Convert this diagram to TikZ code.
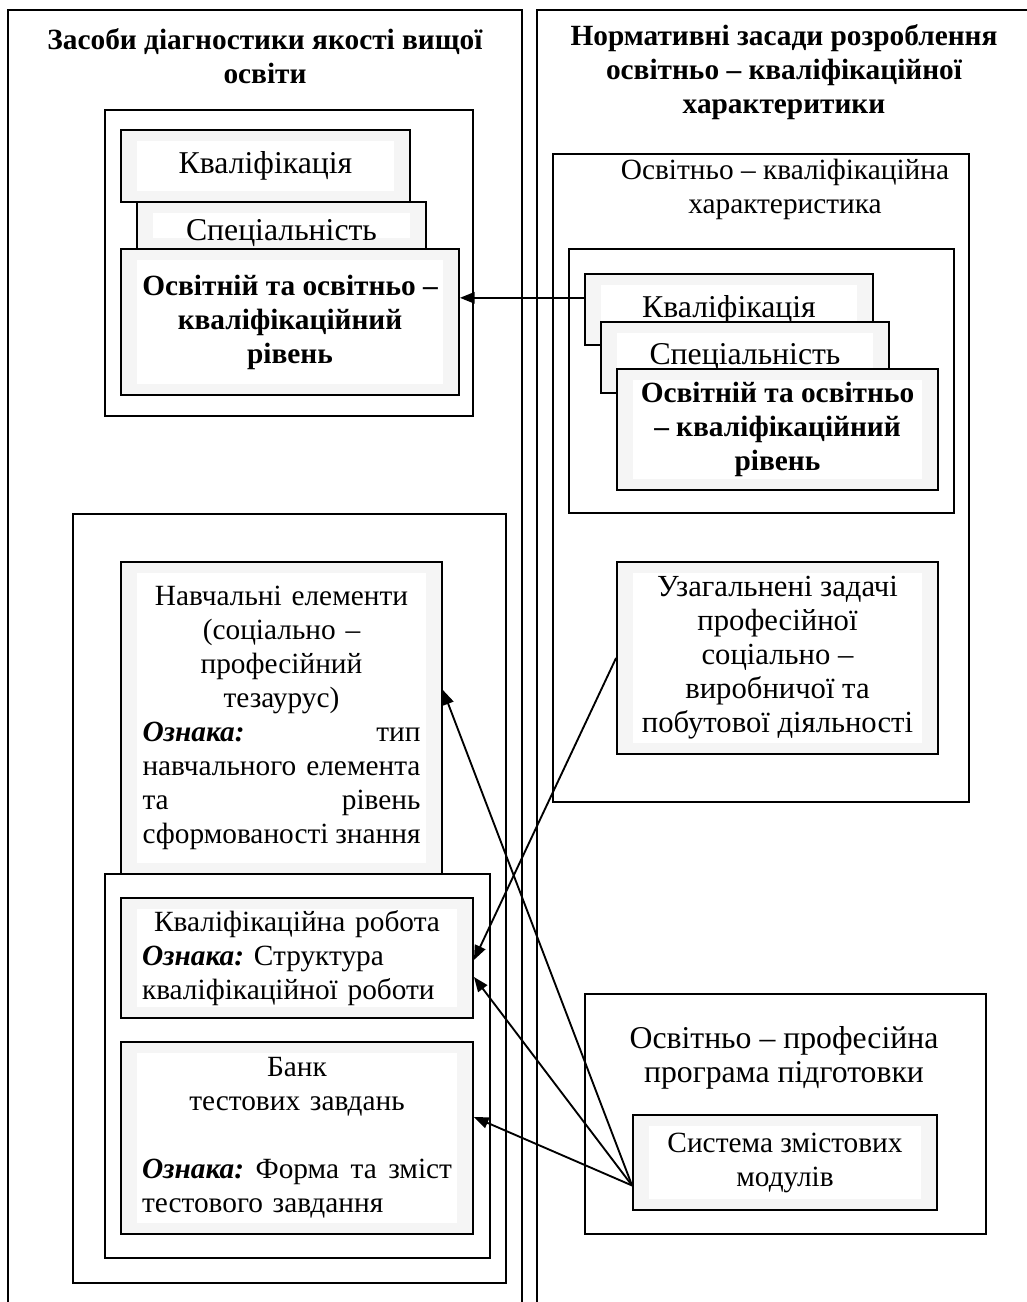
\documentclass[tikz,border=0pt]{standalone}
\usepackage{fontspec}
\setmainfont{Liberation Serif}
\usetikzlibrary{arrows.meta,calc}
\frenchspacing

\begin{document}
\begin{tikzpicture}[x=0.75pt,y=0.75pt,yscale=-1,xscale=1,
  every node/.style={font=\fontsize{22}{25.5}\selectfont, inner sep=0pt, align=center},
  boxline/.style={draw, line width=1.4pt},
  sz/.style 2 args={minimum width=#1*0.75pt, minimum height=#2*0.75pt},
  tbox/.style={boxline, fill=black!4, path picture={\fill[white] ([xshift=12pt,yshift=-8pt]path picture bounding box.north west) rectangle ([xshift=-12pt,yshift=8pt]path picture bounding box.south east);}},
  heading/.style={font=\fontsize{22}{25.5}\selectfont\bfseries},
  big/.style={font=\fontsize{23.8}{25.5}\selectfont},
  arr/.style={line width=1.4pt, -{Triangle[length=11pt,width=8.5pt]}}
]
\useasboundingbox (0,0) rectangle (1027,1302);

%Shape: column frames
\draw[line width=1.4pt] (8,1302) -- (8,10) -- (522,10) -- (522,1302);
\draw[line width=1.4pt] (1027,10) -- (537,10) -- (537,1302);

% Text Node
\node[heading] (ltitle) at (265,56) {Засоби діагностики якості вищої\\освіти};
% Text Node
\node[heading] (rtitle) at (784,72) {Нормативні засади розроблення\\освітньо – кваліфікаційної\\характеритики};

%Shape: Rectangle
\node[boxline, sz={368}{306}] (g1) at (289,263) {};
\node[tbox, big, sz={289}{72}] (lqual) at (265.5,166) {Кваліфікація};
\node[tbox, big, sz={289}{47}, text height=22pt, text depth=0pt] (lspec) at (281.5,225.5) {Спеціальність};
\node[tbox, heading, sz={338}{146}] (llevel) at (290,322) {Освітній та освітньо –\\кваліфікаційний\\рівень};

%Shape: Rectangle
\node[boxline, sz={416}{648}] (hbox) at (761,478) {};
% Text Node
\node (htitle) at (785,189) {Освітньо – кваліфікаційна\\характеристика};
\node[boxline, sz={385}{264}] (nbox) at (761.5,381) {};
\node[tbox, big, sz={288}{71}] (rqual) at (729,309.5) {Кваліфікація};
\node[tbox, big, sz={288}{71}] (rspec) at (745,357.5) {Спеціальність};
\node[tbox, heading, sz={321}{121}] (rlevel) at (777.5,429.5) {Освітній та освітньо\\– кваліфікаційний\\рівень};
\node[tbox, sz={321}{192}, font=\fontsize{23}{25.5}\selectfont] (tasks) at (777.5,658) {Узагальнені задачі\\професійної\\соціально –\\виробничої та\\побутової діяльності};

%Shape: Rectangle
\node[boxline, sz={433}{769}] (g2) at (289.5,898.5) {};
\node[tbox, sz={321}{312}, text width=208.5pt] (elems) at (281.5,718) {Навчальні елементи\\(соціально –\\професійний\\тезаурус)\\\textbf{\textit{Ознака:}}\hfill тип\\навчального\hfill елемента\\та\hfill рівень\\сформованості\hfill знання};
\node[boxline, sz={385}{384}] (g3) at (297.5,1066) {};
\node[tbox, sz={352}{120}, text width=232.5pt] (qwork) at (297,958) {Кваліфікаційна робота\\\textbf{\textit{Ознака:}} Структура\hfill\null\\кваліфікаційної роботи\hfill\null};
\node[tbox, sz={352}{192}, text width=232.5pt] (bank) at (297,1138) {Банк\\тестових завдань\\[25.5pt]\textbf{\textit{Ознака:}}\hfill Форма\hfill та\hfill зміст\\тестового завдання\hfill\null};

%Shape: Rectangle
\node[boxline, sz={401}{240}] (prog) at (785.5,1114) {};
% Text Node
\node[big] (progtitle) at (784,1058) {Освітньо – професійна\\програма підготовки};
\node[tbox, sz={304}{95}] (modules) at (785,1162.5) {Система змістових\\модулів};

%Straight Lines
\coordinate (rqa) at ($(rqual.south west)!0.66!(rqual.north west)$);
\draw[arr] (rqa) -- (rqa -| llevel.east);
\draw[arr] (tasks.west) -- ($(qwork.east)+(0,2)$);
\coordinate (modout) at ($(modules.west)+(0,23)$);
\draw[arr] (modout) -- ($(elems.east)+(0,-28)$);
\draw[arr] (modout) -- ($(qwork.east)+(0,19)$);
\draw[arr] (modout) -- ($(bank.east)+(0,-21)$);

\end{tikzpicture}
\end{document}
